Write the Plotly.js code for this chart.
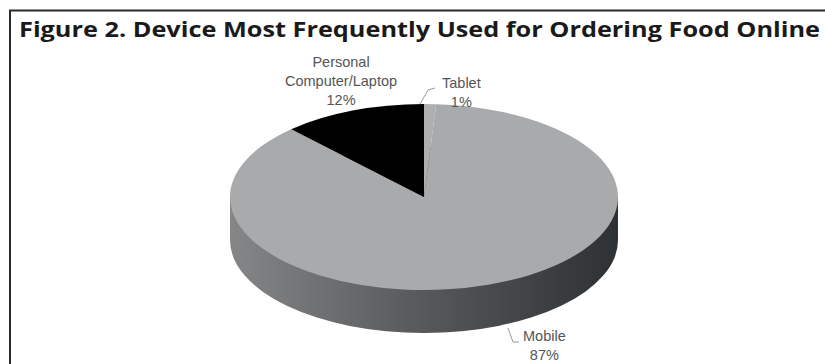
<!DOCTYPE html>
<html><head><meta charset="utf-8">
<script src="https://cdn.plot.ly/plotly-3.0.1.min.js"></script>
<style>html,body{margin:0;padding:0;background:#fff}#chart{width:825px;height:364px}</style>
</head><body><div id="chart"></div>
<script>
// ---- data ----
const categories = ['Tablet', 'Mobile', 'Personal Computer/Laptop'];
const shares = [1, 87, 12];
const labelText = ['Tablet', 'Mobile', 'Personal<br>Computer/Laptop'];
const sliceColors = ['#aeafb0', '#a9aaab', '#000000'];
const titleText = 'Figure 2. Device Most Frequently Used for Ordering Food Online';

// ---- geometry (pixels) ----
const W = 825, H = 364;
const CX = 424, CY = 197, RX = 194, RY = 93, DEPTH = 43, R = 150;
const px = x => x / W, py = y => 1 - y / H;

// label centre positions
const labelPos = [
  {x: 461, y: 92},
  {x: 544, y: 345},
  {x: 341, y: 81}
];

const total = shares.reduce((a, b) => a + b, 0);
const annotations = categories.map((c, i) => ({
  xref: 'paper', yref: 'paper', x: px(labelPos[i].x), y: py(labelPos[i].y),
  xanchor: 'center', yanchor: 'middle', align: 'center', showarrow: false,
  text: labelText[i] + '<br>' + Math.round(shares[i] / total * 100) + '%',
  font: {family: 'Liberation Sans, Arial, sans-serif', size: 14.5, color: '#555555'}
}));

const pathP = pts => pts.map((p, k) => (k ? 'L' : 'M') + px(p[0]) + ',' + py(p[1])).join(' ');

const shapes = [
  // pie depth (side wall)
  {type: 'circle', xref: 'paper', yref: 'paper', layer: 'below',
   x0: px(CX - RX), x1: px(CX + RX), y0: py(CY + DEPTH - RY), y1: py(CY + DEPTH + RY),
   fillcolor: '#555555', line: {width: 0}},
  {type: 'rect', xref: 'paper', yref: 'paper', layer: 'below',
   x0: px(CX - RX), x1: px(CX + RX), y0: py(CY), y1: py(CY + DEPTH),
   fillcolor: '#555555', line: {width: 0}},
  // leader lines
  {type: 'path', xref: 'paper', yref: 'paper', path: pathP([[420, 104], [428, 90], [435, 88]]),
   line: {color: '#9a9a9a', width: 1}},
  {type: 'path', xref: 'paper', yref: 'paper', path: pathP([[508, 328], [513, 342], [519, 342]]),
   line: {color: '#9a9a9a', width: 1}},
  // frame
  {type: 'line', xref: 'paper', yref: 'paper', x0: px(9), x1: px(825), y0: py(10.5), y1: py(10.5),
   line: {color: '#2a2a2a', width: 2}},
  {type: 'line', xref: 'paper', yref: 'paper', x0: px(10), x1: px(10), y0: py(10), y1: py(364),
   line: {color: '#2a2a2a', width: 2}}
];

const data = [{
  type: 'pie', labels: categories, values: shares, sort: false,
  direction: 'clockwise', rotation: 0, textinfo: 'none', hoverinfo: 'label+percent',
  marker: {colors: sliceColors, line: {width: 0}},
  domain: {x: [px(CX - R), px(CX + R)], y: [py(CY + R), py(CY - R)]},
  showlegend: false
}];

const layout = {
  width: W, height: H, margin: {l: 0, r: 0, t: 0, b: 0},
  paper_bgcolor: '#ffffff', plot_bgcolor: '#ffffff', showlegend: false,
  title: {text: titleText, x: px(19), xanchor: 'left', xref: 'container',
          y: py(29.5), yanchor: 'middle', yref: 'container',
          font: {family: 'Open Sans, sans-serif', size: 21, weight: 700, color: '#1a1a1a'}},
  annotations: annotations, shapes: shapes
};

Plotly.newPlot('chart', data, layout, {staticPlot: true}).then(gd => {
  const svg = gd.querySelector('svg.main-svg');
  const pl = gd.querySelector('.pielayer');
  if (pl) pl.setAttribute('transform',
    `translate(${CX},${CY}) scale(${RX / R},${RY / R}) translate(${-CX},${-CY})`);
  const ns = 'http://www.w3.org/2000/svg';
  let defs = svg.querySelector('defs');
  if (!defs) { defs = document.createElementNS(ns, 'defs'); svg.insertBefore(defs, svg.firstChild); }
  const g = document.createElementNS(ns, 'linearGradient');
  g.setAttribute('id', 'sideGrad'); g.setAttribute('x1', '0'); g.setAttribute('x2', '1');
  g.setAttribute('y1', '0'); g.setAttribute('y2', '0');
  [['0', '#858687'], ['0.45', '#5a5c5e'], ['1', '#2e3133']].forEach(s => {
    const st = document.createElementNS(ns, 'stop');
    st.setAttribute('offset', s[0]); st.setAttribute('stop-color', s[1]); g.appendChild(st);
  });
  defs.appendChild(g);
  gd.querySelectorAll('path').forEach(p => {
    if (p.style.fill === 'rgb(85, 85, 85)') p.style.fill = 'url(#sideGrad)';
  });
  // stretch the title text to the reference's width
  const tt = gd.querySelector('.gtitle');
  if (tt) { tt.setAttribute('textLength', '801'); tt.setAttribute('lengthAdjust', 'spacingAndGlyphs'); }
});
</script>
</body></html>
